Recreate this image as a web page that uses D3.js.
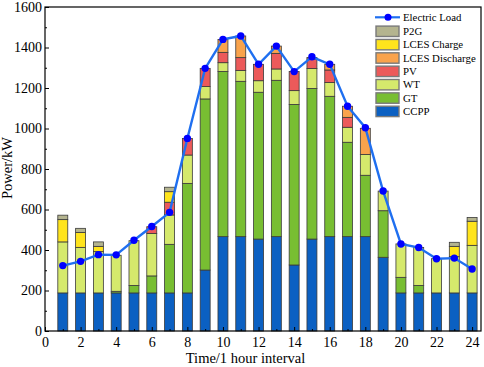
<!DOCTYPE html>
<html>
<head>
<meta charset="utf-8">
<script src="https://cdn.jsdelivr.net/npm/d3@7"></script>
<style>
  body { margin: 0; background: #fff; }
  svg { display: block; font-family: "Liberation Serif", "Times New Roman", serif; font-weight: normal; }
</style>
</head>
<body>
<div id="chart"></div>
<script>
// DATA (kW per hour, stacked segments)
const hours = [1, 2, 3, 4, 5, 6, 7, 8, 9, 10, 11, 12, 13, 14, 15, 16, 17, 18, 19, 20, 21, 22, 23, 24];
const ccpp = [188, 188, 188, 188, 188, 188, 188, 188, 301, 466, 466, 454, 466, 326, 454, 466, 466, 466, 364, 188, 188, 188, 188, 188];
const gt = [0, 0, 0, 8, 37, 84, 240, 541, 845, 816, 767, 725, 772, 793, 744, 693, 466, 303, 230, 77, 37, 0, 0, 0];
const wt = [252, 225, 204, 178, 221, 210, 145, 140, 61, 43, 54, 57, 56, 68, 98, 68, 74, 103, 97, 165, 187, 169, 179, 235];
const pv = [0, 0, 0, 0, 0, 33, 63, 82, 90, 51, 63, 81, 77, 94, 47, 62, 49, 0, 0, 0, 0, 0, 0, 0];
const lcesDischarge = [0, 0, 0, 0, 0, 0, 0, 0, 0, 64, 107, 0, 36, 0, 8, 28, 55, 129, 0, 0, 0, 0, 0, 0];
const lcesCharge = [110, 74, 26, 0, 0, 0, 52, 0, 0, 0, 0, 0, 0, 0, 0, 0, 0, 0, 0, 0, 0, 0, 51, 119];
const p2g = [22, 20, 22, 0, 0, 0, 22, 0, 0, 0, 0, 0, 0, 0, 0, 0, 0, 0, 0, 0, 0, 0, 20, 19];
const electricLoad = [323, 344, 377, 376, 448, 516, 586, 951, 1297, 1440, 1457, 1317, 1407, 1281, 1354, 1317, 1110, 1004, 691, 430, 412, 357, 360, 306];

const xTicks = [0, 2, 4, 6, 8, 10, 12, 14, 16, 18, 20, 22, 24];
const yTicks = [0, 200, 400, 600, 800, 1000, 1200, 1400, 1600];

// series in stack order (bottom -> top)
const seriesNames = ["CCPP", "GT", "WT", "PV", "LCES Discharge", "LCES Charge", "P2G"];
const seriesValues = [ccpp, gt, wt, pv, lcesDischarge, lcesCharge, p2g];
const seriesColors = ["#0b60c2", "#78be32", "#d5e96c", "#ec5a5a", "#f9a34c", "#ffe41c", "#b4b48f"];

// Canvas
const svgWidth = 484;
const svgHeight = 367;
const margin = { top: 7, right: 3, bottom: 36, left: 45 };
const width = svgWidth - margin.left - margin.right;
const height = svgHeight - margin.top - margin.bottom;

const svg = d3.select("#chart")
  .append("svg")
  .attr("width", svgWidth)
  .attr("height", svgHeight);

const chartGroup = svg.append("g")
  .attr("transform", `translate(${margin.left}, ${margin.top})`);

// Scales
const xScale = d3.scaleLinear().domain([0, 24.5]).range([0, width]);
const yScale = d3.scaleLinear().domain([0, 1600]).range([height, 0]);

// Stack table
const table = hours.map((h, i) => {
  const row = { hour: h };
  seriesNames.forEach((name, k) => row[name] = seriesValues[k][i]);
  return row;
});
const stacked = d3.stack().keys(seriesNames)(table);

const barWidth = xScale(0.56) - xScale(0);

// Bars
chartGroup.selectAll("g.layer")
  .data(stacked)
  .enter()
  .append("g")
  .attr("class", "layer")
  .attr("fill", (d, i) => seriesColors[i])
  .selectAll("rect")
  .data(d => d.filter(s => s[1] - s[0] > 0))
  .enter()
  .append("rect")
  .attr("x", d => xScale(d.data.hour) - barWidth / 2)
  .attr("y", d => yScale(d[1]))
  .attr("width", barWidth)
  .attr("height", d => yScale(d[0]) - yScale(d[1]))
  .attr("stroke", "#3a3a3a")
  .attr("stroke-width", 0.8);

// Electric load line
const line = d3.line()
  .x((d, i) => xScale(hours[i]))
  .y(d => yScale(d));

chartGroup.append("path")
  .datum(electricLoad)
  .attr("d", line)
  .attr("fill", "none")
  .attr("stroke", "#1f6ff0")
  .attr("stroke-width", 2.4);

chartGroup.selectAll("circle.load")
  .data(electricLoad)
  .enter()
  .append("circle")
  .attr("class", "load")
  .attr("cx", (d, i) => xScale(hours[i]))
  .attr("cy", d => yScale(d))
  .attr("r", 3.7)
  .attr("fill", "#0000ff");

// Axes (ticks pointing inward)
const xAxis = d3.axisBottom(xScale).tickValues(xTicks).tickFormat(d3.format("d"))
  .tickSizeInner(-4).tickSizeOuter(0).tickPadding(6);
const yAxis = d3.axisLeft(yScale).tickValues(yTicks).tickFormat(d3.format("d"))
  .tickSizeInner(-4).tickSizeOuter(0).tickPadding(3);

const xMinor = d3.axisBottom(xScale).tickValues(xTicks.slice(0, -1).map(t => t + 1)).tickSize(-2).tickFormat("");
const yMinor = d3.axisLeft(yScale).tickValues(yTicks.slice(0, -1).map(t => t + 100)).tickSize(-2).tickFormat("");

const gx = chartGroup.append("g").attr("transform", `translate(0, ${height})`).call(xAxis);
chartGroup.append("g").attr("transform", `translate(0, ${height})`).call(xMinor);
const gy = chartGroup.append("g").call(yAxis);
chartGroup.append("g").call(yMinor);

chartGroup.selectAll(".domain").remove();
chartGroup.selectAll(".tick line").attr("stroke", "#000").attr("stroke-width", 1);
[gx, gy].forEach(g => g
  .attr("font-family", null)
  .attr("font-size", "14px")
  .selectAll("text")
  .attr("fill", "#000"));

// Frame
chartGroup.append("rect")
  .attr("width", width)
  .attr("height", height)
  .attr("fill", "none")
  .attr("stroke", "#000")
  .attr("stroke-width", 1.2);

// Axis labels
svg.append("text")
  .attr("transform", `translate(12, ${margin.top + yScale(800) - 1}) rotate(-90)`)
  .attr("text-anchor", "middle")
  .attr("font-size", "14.5px")
  .text("Power/kW");

svg.append("text")
  .attr("x", 245.5)
  .attr("y", 363)
  .attr("text-anchor", "middle")
  .attr("font-size", "14.5px")
  .text("Time/1 hour interval");

// Legend
const legend = svg.append("g").attr("font-size", "10.8px");
const legendX = 376;
const rowH = 13.35;

legend.append("line")
  .attr("x1", legendX - 1).attr("x2", legendX + 24)
  .attr("y1", 17.3).attr("y2", 17.3)
  .attr("stroke", "#1f6ff0").attr("stroke-width", 2.2);
legend.append("circle")
  .attr("cx", legendX + 12).attr("cy", 17.3).attr("r", 3.5)
  .attr("fill", "#0000ff");
legend.append("text")
  .attr("x", legendX + 27).attr("y", 17.3).attr("dy", "0.35em")
  .text("Electric Load");

const legendOrder = seriesNames.slice().reverse();
legendOrder.forEach((name, i) => {
  const cy = 31.3 + i * rowH;
  const k = seriesNames.indexOf(name);
  legend.append("rect")
    .attr("x", legendX).attr("y", cy - 5.2)
    .attr("width", 23).attr("height", 10.4)
    .attr("fill", seriesColors[k])
    .attr("stroke", "#7a7a7a").attr("stroke-width", 1.4);
  legend.append("text")
    .attr("x", legendX + 27).attr("y", cy).attr("dy", "0.35em")
    .text(name);
});
</script>
</body>
</html>
